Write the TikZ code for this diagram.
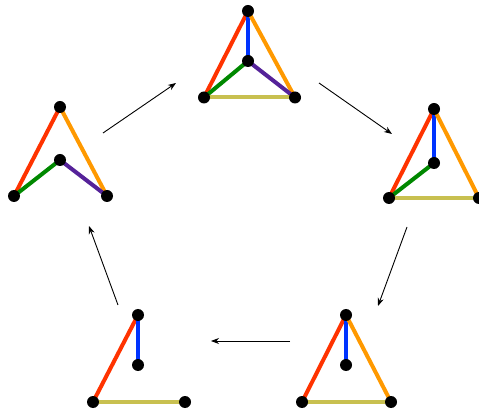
\documentclass[tikz,border=0pt]{standalone}
\usetikzlibrary{arrows.meta,backgrounds}
\definecolor{cred}{HTML}{FF3300}
\definecolor{corange}{HTML}{FF9900}
\definecolor{cblue}{HTML}{0033FF}
\definecolor{cgreen}{HTML}{008800}
\definecolor{cpurple}{HTML}{552299}
\definecolor{colive}{HTML}{C8C050}
\begin{document}
\begin{tikzpicture}[x=1pt,y=-1pt,
  dot/.style={circle,fill=black,inner sep=0pt,minimum size=12pt},
  ed/.style={line width=4pt},
  arr/.style={line width=0.9pt,-{Stealth[length=8pt,width=6pt]}}]
\useasboundingbox (0,0) rectangle (479,411);
% graph 1 (top)
\node[dot] (at) at (248,11) {};
\node[dot] (ac) at (248,61) {};
\node[dot] (al) at (204,97.5) {};
\node[dot] (ar) at (295,97.5) {};
% graph 2 (right)
\node[dot] (bt) at (434,109) {};
\node[dot] (bc) at (434,163) {};
\node[dot] (bl) at (389,198) {};
\node[dot] (br) at (479,198) {};
% graph 3 (bottom right)
\node[dot] (ct) at (346,315) {};
\node[dot] (cc) at (346,365) {};
\node[dot] (cl) at (302,402) {};
\node[dot] (cr) at (391,402) {};
% graph 4 (bottom left)
\node[dot] (dt) at (138,315) {};
\node[dot] (dc) at (138,365) {};
\node[dot] (dl) at (93,402) {};
\node[dot] (dr) at (185,402) {};
% graph 5 (left)
\node[dot] (et) at (60,107) {};
\node[dot] (ec) at (60,160) {};
\node[dot] (el) at (14,196) {};
\node[dot] (er) at (107,196) {};
\begin{scope}[on background layer]
\draw[ed,cred] (at.center) -- (al.center);
\draw[ed,cblue] (at.center) -- (ac.center);
\draw[ed,corange] (at.center) -- (ar.center);
\draw[ed,cgreen] (ac.center) -- (al.center);
\draw[ed,cpurple] (ac.center) -- (ar.center);
\draw[ed,colive] (al.center) -- (ar.center);
\draw[ed,cred] (bt.center) -- (bl.center);
\draw[ed,cblue] (bt.center) -- (bc.center);
\draw[ed,corange] (bt.center) -- (br.center);
\draw[ed,cgreen] (bc.center) -- (bl.center);
\draw[ed,colive] (bl.center) -- (br.center);
\draw[ed,cred] (ct.center) -- (cl.center);
\draw[ed,cblue] (ct.center) -- (cc.center);
\draw[ed,corange] (ct.center) -- (cr.center);
\draw[ed,colive] (cl.center) -- (cr.center);
\draw[ed,cred] (dt.center) -- (dl.center);
\draw[ed,cblue] (dt.center) -- (dc.center);
\draw[ed,colive] (dl.center) -- (dr.center);
\draw[ed,cred] (et.center) -- (el.center);
\draw[ed,corange] (et.center) -- (er.center);
\draw[ed,cgreen] (ec.center) -- (el.center);
\draw[ed,cpurple] (ec.center) -- (er.center);
\end{scope}
% arrows
\coordinate (p1) at (103,133); \coordinate (q1) at (176,83);
\coordinate (p2) at (319,83); \coordinate (q2) at (392,134);
\coordinate (p3) at (407,227); \coordinate (q3) at (378,306);
\coordinate (p4) at (290,341); \coordinate (q4) at (211,341);
\coordinate (p5) at (118,305); \coordinate (q5) at (89,226);
\draw[arr] (p1) -- (q1);
\draw[arr] (p2) -- (q2);
\draw[arr] (p3) -- (q3);
\draw[arr] (p4) -- (q4);
\draw[arr] (p5) -- (q5);
\end{tikzpicture}
\end{document}
